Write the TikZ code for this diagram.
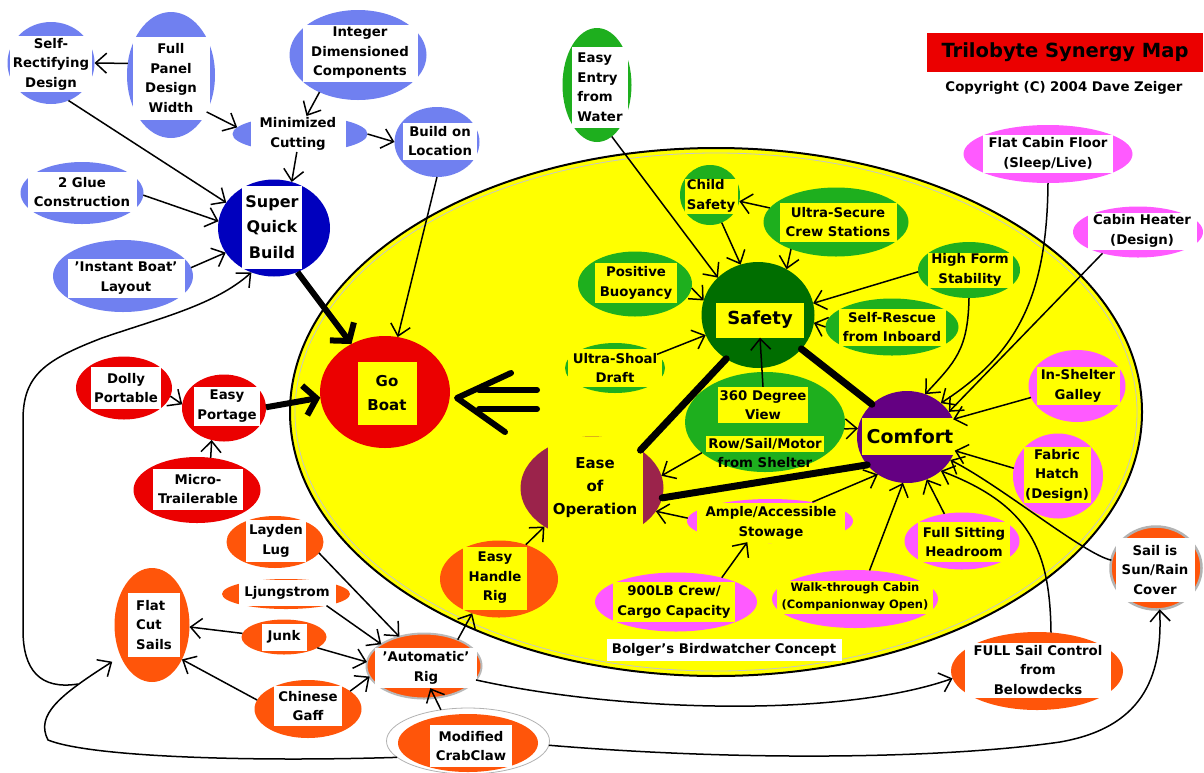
\documentclass[tikz,border=0pt]{standalone}
\usepackage{fontspec}
\setmainfont{DejaVu Sans}
\usetikzlibrary{shapes.geometric,arrows.meta,calc}
\definecolor{yel}{RGB}{255,255,0}
\definecolor{bl}{RGB}{112,128,240}
\definecolor{sqbblue}{RGB}{0,0,190}
\definecolor{gr}{RGB}{30,175,30}
\definecolor{dgr}{RGB}{0,110,0}
\definecolor{pur}{RGB}{100,0,130}
\definecolor{pk}{RGB}{255,90,255}
\definecolor{rd}{RGB}{235,0,0}
\definecolor{org}{RGB}{255,85,10}
\definecolor{mar}{RGB}{155,35,75}
\begin{document}
\begin{tikzpicture}[x=1pt,y=-1pt,
  blob/.style={ellipse, inner sep=0pt, outer sep=0pt},
  lbl/.style={rectangle, inner sep=0pt, align=center, fill=white, font=\fontsize{13.3}{19.5}\selectfont\bfseries},
  lby/.style={lbl, fill=yel},
  ar/.style={line width=1.5pt, -{Straight Barb[length=11pt,width=20pt]}},
  thar/.style={line width=6pt, -{Straight Barb[length=12pt,width=30pt]}},
  link/.style={line width=7pt, line cap=round}]
\fill[white] (0,0) rectangle (1204,772);
\useasboundingbox (0,0) rectangle (1204,772);

% big yellow concept ellipse
\node[blob, fill=yel, draw=black, line width=2pt, minimum width=852pt, minimum height=528pt] (bb) at (716,412) {};
\draw[gray!45, line width=0.8pt] (bb.center) ellipse [x radius=421, y radius=259];

% title
\node[fill=rd, inner sep=0pt, minimum width=276pt, minimum height=39pt, font=\fontsize{19.5}{22}\selectfont\bfseries] (title) at (1065,52) {Trilobyte Synergy Map};
\node[font=\fontsize{13.3}{16}\selectfont\bfseries, inner sep=0pt] (copy) at (1064,88) {Copyright (C) 2004 Dave Zeiger};

% ---- blue: build cluster
\node[blob, fill=bl, minimum width=87pt, minimum height=82pt] (srd) at (51,63) {};
\node[lbl, minimum width=82pt, minimum height=56pt] (srdt) at (51,64) {Self-\\Rectifying\\Design};
\node[blob, fill=bl, minimum width=88pt, minimum height=126pt] (fpd) at (171,75) {};
\node[lbl, minimum width=77pt, minimum height=83pt] (fpdt) at (171,78) {Full\\Panel\\Design\\Width};
\node[blob, fill=bl, minimum width=137pt, minimum height=90pt] (idc) at (358,55) {};
\node[lbl, minimum width=115pt, minimum height=57pt] (idct) at (360,53) {Integer\\Dimensioned\\Components};
\node[blob, fill=bl, minimum width=135pt, minimum height=36pt] (mc) at (300,134) {};
\node[lbl, minimum width=95pt, minimum height=40pt] (mct) at (298,134) {Minimized\\Cutting};
\node[blob, fill=bl, minimum width=85pt, minimum height=70pt] (bol) at (437,142) {};
\node[lbl, minimum width=74pt, minimum height=37pt] (bolt) at (440,141) {Build on\\Location};
\node[blob, fill=bl, minimum width=123pt, minimum height=62pt] (glue) at (82,193) {};
\node[lbl, minimum width=109pt, minimum height=40pt] (gluet) at (82,192) {2 Glue\\Construction};
\node[blob, fill=bl, minimum width=140pt, minimum height=72pt] (ibl) at (123,276) {};
\node[lbl, minimum width=117pt, minimum height=39pt] (iblt) at (126,278) {'Instant Boat'\\Layout};
\node[blob, fill=sqbblue, minimum width=112pt, minimum height=97pt] (sqb) at (274,228) {};
\node[lbl, minimum width=60pt, minimum height=83pt, font=\fontsize{16}{25.5}\selectfont\bfseries] (sqbt) at (272,227) {Super\\Quick\\Build};

% ---- red: portage cluster
\node[blob, fill=rd, minimum width=130pt, minimum height=112pt] (go) at (385,392) {};
\node[lby, minimum width=59pt, minimum height=63pt, font=\fontsize{15}{24}\selectfont\bfseries] (got) at (387,393) {Go\\Boat};
\node[blob, fill=rd, minimum width=96pt, minimum height=63pt] (dolly) at (124,388) {};
\node[lbl, minimum width=70pt, minimum height=42pt] (dollyt) at (126,388) {Dolly\\Portable};
\node[blob, fill=rd, minimum width=84pt, minimum height=67pt] (portage) at (224,408) {};
\node[lbl, minimum width=66pt, minimum height=39pt] (portaget) at (227,406) {Easy\\Portage};
\node[blob, fill=rd, minimum width=127pt, minimum height=66pt] (micro) at (197,490) {};
\node[lbl, minimum width=90pt, minimum height=41pt] (microt) at (198,489) {Micro-\\Trailerable};

% ---- green: safety cluster
\node[blob, fill=gr, minimum width=69pt, minimum height=114pt] (entry) at (597,85) {};
\node[lbl, align=left, minimum width=56pt, minimum height=81pt] (entryt) at (600,87) {Easy\\Entry\\from\\Water};
\node[blob, fill=gr, minimum width=60pt, minimum height=60pt] (child) at (710,195) {};
\node[lby, align=left, minimum width=53pt, minimum height=35pt] (childt) at (711,196) {Child\\Safety};
\node[blob, fill=gr, minimum width=145pt, minimum height=69pt] (secure) at (836,222) {};
\node[lby, minimum width=117pt, minimum height=39pt] (securet) at (838,222) {Ultra-Secure\\Crew Stations};
\node[blob, fill=gr, minimum width=114pt, minimum height=65pt] (buoy) at (635,284) {};
\node[lby, minimum width=82pt, minimum height=40pt] (buoyt) at (636,283) {Positive\\Buoyancy};
\node[blob, fill=gr, minimum width=102pt, minimum height=56pt] (hfs) at (969,270) {};
\node[lby, minimum width=85pt, minimum height=35pt] (hfst) at (970,270) {High Form\\Stability};
\node[blob, fill=dgr, minimum width=113pt, minimum height=106pt] (safety) at (758,315) {};
\node[lby, minimum width=88pt, minimum height=35pt, font=\fontsize{18}{22}\selectfont\bfseries] (safetyt) at (760,320) {Safety};
\node[blob, fill=gr, minimum width=133pt, minimum height=57pt] (rescue) at (892,327) {};
\node[lby, minimum width=107pt, minimum height=37pt] (rescuet) at (892,327) {Self-Rescue\\from Inboard};
\node[blob, fill=gr, minimum width=100pt, minimum height=50pt] (shoal) at (615,368) {};
\node[lby, minimum width=94pt, minimum height=38pt] (shoalt) at (615,368) {Ultra-Shoal\\Draft};
\node[blob, fill=gr, minimum width=160pt, minimum height=100pt] (view) at (765,422) {};
\node[lby, minimum width=90pt, minimum height=36pt] (viewt) at (763,405) {360 Degree\\View};
\node[lbl, fill=none] (rowt) at (765,452) {\setlength{\fboxsep}{2.5pt}\colorbox{yel}{Row/Sail/Motor}\\from Shelter};

% ---- purple / pink: comfort cluster
\node[blob, fill=pur, minimum width=100pt, minimum height=92pt] (comfort) at (907,437) {};
\node[lby, minimum width=96pt, minimum height=37pt, font=\fontsize{19}{22}\selectfont\bfseries] (comfortt) at (910,436) {Comfort};
\node[blob, fill=pk, minimum width=169pt, minimum height=58pt] (floor) at (1048,154) {};
\node[lbl, minimum width=130pt, minimum height=38pt] (floort) at (1048,154) {Flat Cabin Floor\\(Sleep/Live)};
\node[blob, fill=pk, minimum width=130pt, minimum height=51pt] (heater) at (1138,232) {};
\node[lbl, minimum width=109pt, minimum height=37pt] (heatert) at (1142,231) {Cabin Heater\\(Design)};
\node[blob, fill=pk, minimum width=97pt, minimum height=72pt] (galley) at (1077,386) {};
\node[lby, minimum width=83pt, minimum height=38pt] (galleyt) at (1078,386) {In-Shelter\\Galley};
\node[blob, fill=pk, minimum width=90pt, minimum height=85pt] (hatch) at (1058,476) {};
\node[lby, minimum width=67pt, minimum height=56pt] (hatcht) at (1057,475) {Fabric\\Hatch\\(Design)};
\node[blob, fill=pk, minimum width=115pt, minimum height=57pt] (headroom) at (962,541) {};
\node[lby, minimum width=92pt, minimum height=40pt] (headroomt) at (964,542) {Full Sitting\\Headroom};
\node[blob, fill=pk, minimum width=166pt, minimum height=58pt] (walk) at (855,599) {};
\node[lby, minimum width=156pt, minimum height=33pt, font=\fontsize{11.5}{17}\selectfont\bfseries] (walkt) at (855,597) {Walk-through Cabin\\(Companionway Open)};
\node[blob, fill=pk, minimum width=162pt, minimum height=59pt] (cargo) at (676,602) {};
\node[lby, minimum width=122pt, minimum height=40pt] (cargot) at (674,602) {900LB Crew/\\Cargo Capacity};
\node[blob, fill=pk, minimum width=166pt, minimum height=44pt] (stow) at (770,521) {};
\node[lby, minimum width=148pt, minimum height=40pt] (stowt) at (771,523) {Ample/Accessible\\Stowage};

% ---- ease of operation
\node[blob, fill=mar, minimum width=143pt, minimum height=103pt] (ease) at (592,488) {};
\node[lby, minimum width=95pt, minimum height=103pt, font=\fontsize{15}{23}\selectfont\bfseries] (easet) at (595,488) {Ease\\of\\Operation};
\node[blob, fill=org, minimum width=118pt, minimum height=77pt] (ehr) at (499,579) {};
\node[lby, minimum width=64pt, minimum height=63pt] (ehrt) at (495,578) {Easy\\Handle\\Rig};

\node[lbl, minimum width=235pt, minimum height=22pt] (bolger) at (724,650) {Bolger's Birdwatcher Concept};

% ---- orange: rig cluster
\node[blob, fill=org, minimum width=97pt, minimum height=52pt] (layden) at (275,542) {};
\node[lbl, minimum width=60pt, minimum height=42pt] (laydent) at (276,541) {Layden\\Lug};
\node[blob, fill=org, minimum width=128pt, minimum height=30pt] (ljung) at (286,594) {};
\node[lbl, minimum width=97pt, minimum height=26pt] (ljungt) at (287,593) {Ljungstrom};
\node[blob, fill=org, minimum width=85pt, minimum height=35pt] (junk) at (284,637) {};
\node[lbl, minimum width=45pt, minimum height=27pt] (junkt) at (284,637) {Junk};
\node[blob, fill=org, minimum width=75pt, minimum height=114pt] (fcs) at (152,625) {};
\node[lbl, align=left, minimum width=52pt, minimum height=64pt] (fcst) at (154,625) {Flat\\Cut\\Sails};
\node[blob, fill=org, minimum width=107pt, minimum height=58pt] (gaff) at (308,709) {};
\node[lbl, minimum width=68pt, minimum height=40pt] (gafft) at (308,706) {Chinese\\Gaff};
\node[blob, fill=org, draw=gray!55, line width=2pt, minimum width=115pt, minimum height=65pt] (rig) at (424,666) {};
\node[lbl, minimum width=102pt, minimum height=40pt] (rigt) at (426,668) {'Automatic'\\Rig};
\node[blob, fill=white, draw=gray!60, line width=0.8pt, minimum width=163pt, minimum height=66pt] (crab) at (468,741) {};
\node[blob, fill=org, minimum width=140pt, minimum height=58pt] (crabin) at (468,743) {};
\node[lbl, minimum width=82pt, minimum height=42pt] (crabt) at (471,746) {Modified\\CrabClaw};
\node[blob, fill=org, minimum width=172pt, minimum height=78pt] (full) at (1037,671) {};
\node[lbl, minimum width=146pt, minimum height=55pt] (fullt) at (1038,670) {FULL Sail Control\\from\\Belowdecks};
\node[blob, fill=org, draw=gray!60, line width=2.5pt, minimum width=91pt, minimum height=83pt] (sun) at (1156,568) {};
\node[lbl, minimum width=79pt, minimum height=64pt] (sunt) at (1155,570) {Sail is\\Sun/Rain\\Cover};

% ================= connectors
% build cluster
\draw[ar] (fpd.165) -- (srd.0);
\draw[ar] (fpd.-46) -- (mc.174);
\draw[ar] (idc.-136) -- (mc.70);
\draw[ar] (mc.0) -- (bol.180);
\draw[ar] (mc.-100) -- (sqb.69);
\draw[ar] (srd.-65) -- (sqb.152);
\draw[ar] (glue.-2) -- (sqb.173);
\draw[ar] (ibl.7) -- (sqb.-153);
\draw[ar] (bol.-90) -- (go.77);
\draw[thar] (sqb.-62) -- (go.125);
\draw[thar] (portage.1) -- (go.185);
\draw[ar] (dolly.-10) -- (portage.175);
\draw[ar] (micro.67) -- (portage.-111);

% big double arrow from the concept into Go Boat
\coordinate (dtip) at ($(go.east)+(7,6)$);
\draw[line width=6pt, line cap=round] ($(dtip)+(22,-8)$) -- ($(dtip)+(80,-8)$);
\draw[line width=6pt, line cap=round] ($(dtip)+(22,11)$) -- ($(dtip)+(80,11)$);
\draw[line width=6pt, line cap=round, line join=round] ($(dtip)+(54,-25)$) -- (dtip) -- ($(dtip)+(48,34)$);

% safety cluster
\draw[ar] (entry.-74) -- (safety.137);
\draw[ar] (child.-67) -- (safety.109);
\draw[ar] (secure.-149) -- (safety.58);
\draw[ar] (secure.168) -- (child.-12);
\draw[ar] (buoy.-4) -- (safety.165);
\draw[ar] (shoal.18) -- (safety.-159);
\draw[ar] (hfs.182) -- (safety.12);
\draw[ar] (rescue.180) -- (safety.-8);
\draw[ar] (viewt.north) -- (safetyt.south);

% main triangle
\draw[link] (safety.-126) -- (ease.38);
\draw[link] (safety.-38) -- (comfort.137);
\draw[link] (ease.-8) -- (comfort.-145);

% ease of operation
\draw[ar] (view.-154) -- (ease.10);
\draw[ar] (stow.178) -- (ease.-20);
\draw[ar] (ehr.52) -- (ease.-141);
\draw[ar] (cargo.28) -- (stow.-137);

% comfort
\draw[ar] (view.-5) -- (comfort.170);
\draw[ar] (stow.24) -- (comfort.-128);
\draw[ar] (walk.63) -- (comfort.-95);
\draw[ar] (headroom.123) -- (comfort.-65);
\draw[ar] (hatch.170) -- (comfort.-16);
\draw[ar] (galley.194) -- (comfort.21);
\draw[ar] (heater.-149) -- (comfort.31);
\draw[ar] (floor.-90) .. controls (1047,300) and (1015,355) .. (comfort.45);
\draw[ar] (hfs.-90) .. controls (968,350) and (955,362) .. (comfort.67);
\draw[ar] (full.70) .. controls (1050,550) and (1030,505) .. (comfort.-45);
\draw[ar] (sun.170) .. controls (1085,555) and (1000,485) .. (comfort.-28);

% rig cluster
\draw[ar] (layden.-14) -- (rig.130);
\draw[ar] (ljung.-16) -- (rig.153);
\draw[ar] (junk.-18) -- (rig.176);
\draw[ar] (gaff.23) -- (rig.191);
\draw[ar] (junk.175) -- (fcs.-3);
\draw[ar] (gaff.170) -- (fcs.-49);
\draw[ar] (crab.131) -- (rigt.-78);
\draw[ar] (rig.38) -- (ehr.-128);
\draw[ar] (rig.-15) .. controls (620,712) and (840,718) .. (full.185);
\draw[ar] (crab.-3) .. controls (750,762) and (950,758) .. (1060,742) .. controls (1140,728) and (1163,680) .. (sun.-85);
\draw[ar, shorten >=10pt] (crab.-167) .. controls (250,762) and (90,757) .. (48,740) .. controls (35,715) and (60,695) .. (fcs.-135);
\coordinate (lj) at (78,684);
\draw[ar] (lj) .. controls (40,690) and (23,670) .. (23,630) -- (23,420) .. controls (23,375) and (45,360) .. (102,338) .. controls (160,318) and (215,305) .. (sqb.-117);
\end{tikzpicture}
\end{document}
